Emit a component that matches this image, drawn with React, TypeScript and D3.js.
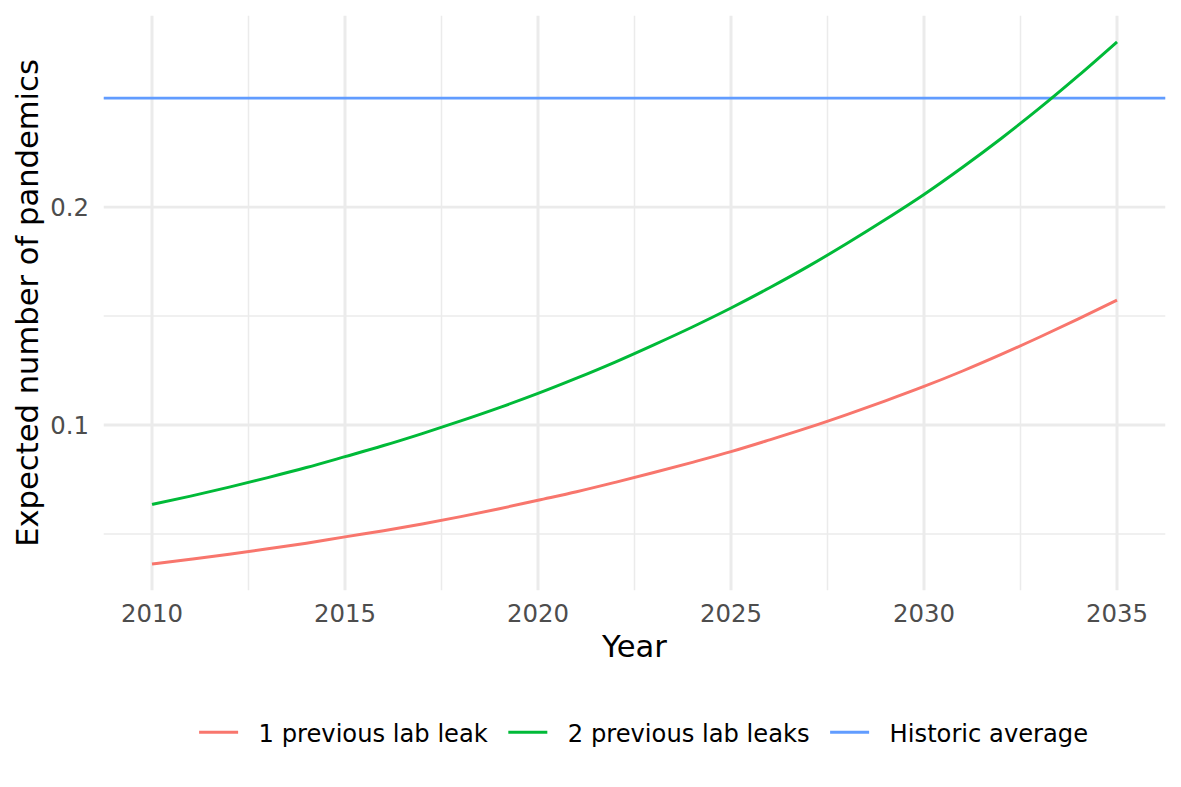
import { useEffect, useRef } from "react";
import * as d3 from "d3";

const years = [
  2010, 2011, 2012, 2013, 2014, 2015, 2016, 2017, 2018, 2019, 2020, 2021, 2022,
  2023, 2024, 2025, 2026, 2027, 2028, 2029, 2030, 2031, 2032, 2033, 2034, 2035,
];
const oneLeak = [
  0.0362, 0.0384, 0.0407, 0.0432, 0.0458, 0.0487, 0.0515, 0.0546, 0.058, 0.0616,
  0.0655, 0.0694, 0.0737, 0.0782, 0.0829, 0.0878, 0.0932, 0.0988, 0.1048, 0.1111,
  0.1177, 0.1248, 0.1324, 0.1404, 0.1487, 0.1573,
];
const twoLeaks = [
  0.0636, 0.0674, 0.0715, 0.0759, 0.0805, 0.0855, 0.0906, 0.0961, 0.1019, 0.108,
  0.1145, 0.1215, 0.1289, 0.1368, 0.145, 0.1537, 0.163, 0.1728, 0.1833, 0.1943,
  0.2058, 0.2183, 0.2315, 0.2455, 0.2603, 0.2758,
];
const historicAverage = 0.25;

const seriesNames = ["1 previous lab leak", "2 previous lab leaks", "Historic average"];
const seriesColors = ["#F8766D", "#00BA38", "#619CFF"];

const xTicks = [2010, 2015, 2020, 2025, 2030, 2035];
const xMinor = [2012.5, 2017.5, 2022.5, 2027.5, 2032.5];
const yTicks = [0.1, 0.2];
const yMinor = [0.05, 0.15, 0.25];

export default function App() {
  const svgRef = useRef<SVGSVGElement>(null);

  useEffect(() => {
    if (!svgRef.current) return;
    const width = 1181;
    const height = 787;
    const panel = { left: 103.75, right: 1165.25, top: 15.8, bottom: 590.2 };
    const font = "DejaVu Sans, sans-serif";

    const svg = d3.select(svgRef.current);
    svg.selectAll("*").remove();
    svg.attr("width", width).attr("height", height).attr("viewBox", `0 0 ${width} ${height}`);
    svg.append("rect").attr("width", width).attr("height", height).attr("fill", "#ffffff");

    // ggplot-style 5% expansion
    const allY = [...oneLeak, ...twoLeaks];
    const yMin = d3.min(allY) as number;
    const yMax = d3.max(allY) as number;
    const yPad = (yMax - yMin) * 0.05;
    const xPad = (years[years.length - 1] - years[0]) * 0.05;

    const x = d3
      .scaleLinear()
      .domain([years[0] - xPad, years[years.length - 1] + xPad])
      .range([panel.left, panel.right]);
    const y = d3
      .scaleLinear()
      .domain([yMin - yPad, yMax + yPad])
      .range([panel.bottom, panel.top]);

    const grid = svg.append("g");
    // Minor grid
    grid
      .selectAll(".vminor")
      .data(xMinor)
      .enter()
      .append("line")
      .attr("x1", (d) => x(d))
      .attr("x2", (d) => x(d))
      .attr("y1", panel.top)
      .attr("y2", panel.bottom)
      .attr("stroke", "#EBEBEB")
      .attr("stroke-width", 1.48);
    grid
      .selectAll(".hminor")
      .data(yMinor)
      .enter()
      .append("line")
      .attr("x1", panel.left)
      .attr("x2", panel.right)
      .attr("y1", (d) => y(d))
      .attr("y2", (d) => y(d))
      .attr("stroke", "#EBEBEB")
      .attr("stroke-width", 1.48);
    // Major grid
    grid
      .selectAll(".vmajor")
      .data(xTicks)
      .enter()
      .append("line")
      .attr("x1", (d) => x(d))
      .attr("x2", (d) => x(d))
      .attr("y1", panel.top)
      .attr("y2", panel.bottom)
      .attr("stroke", "#EBEBEB")
      .attr("stroke-width", 2.96);
    grid
      .selectAll(".hmajor")
      .data(yTicks)
      .enter()
      .append("line")
      .attr("x1", panel.left)
      .attr("x2", panel.right)
      .attr("y1", (d) => y(d))
      .attr("y2", (d) => y(d))
      .attr("stroke", "#EBEBEB")
      .attr("stroke-width", 2.96);

    // Historic average
    svg
      .append("line")
      .attr("x1", panel.left)
      .attr("x2", panel.right)
      .attr("y1", y(historicAverage))
      .attr("y2", y(historicAverage))
      .attr("stroke", seriesColors[2])
      .attr("stroke-width", 2.96);

    const line = d3
      .line<number>()
      .x((_, i) => x(years[i]))
      .y((d) => y(d))
      .curve(d3.curveMonotoneX);

    [oneLeak, twoLeaks].forEach((vals, i) => {
      svg
        .append("path")
        .datum(vals)
        .attr("fill", "none")
        .attr("stroke", seriesColors[i])
        .attr("stroke-width", 2.96)
        .attr("stroke-linejoin", "round")
        .attr("d", line);
    });

    // Axis tick labels
    svg
      .selectAll(".xlab")
      .data(xTicks)
      .enter()
      .append("text")
      .attr("x", (d) => x(d))
      .attr("y", 622)
      .attr("text-anchor", "middle")
      .attr("font-family", font)
      .attr("font-size", 24.4)
      .attr("fill", "#4D4D4D")
      .text((d) => String(d));
    svg
      .selectAll(".ylab")
      .data(yTicks)
      .enter()
      .append("text")
      .attr("x", 89)
      .attr("y", (d) => y(d))
      .attr("dy", "0.35em")
      .attr("text-anchor", "end")
      .attr("font-family", font)
      .attr("font-size", 24.4)
      .attr("fill", "#4D4D4D")
      .text((d) => d3.format(".1f")(d));

    // Axis titles
    svg
      .append("text")
      .attr("x", (panel.left + panel.right) / 2)
      .attr("y", 657)
      .attr("text-anchor", "middle")
      .attr("font-family", font)
      .attr("font-size", 30.6)
      .attr("fill", "#000000")
      .text("Year");
    svg
      .append("text")
      .attr("transform", `translate(38,${(panel.top + panel.bottom) / 2}) rotate(-90)`)
      .attr("text-anchor", "middle")
      .attr("font-family", font)
      .attr("font-size", 30.6)
      .attr("fill", "#000000")
      .text("Expected number of pandemics");

    // Legend (bottom, centred)
    const legend = svg.append("g");
    const keyLen = 39;
    const gap = 20.5;
    const items = seriesNames.map((name, i) => {
      const g = legend.append("g");
      g.append("line")
        .attr("x1", 0)
        .attr("x2", keyLen)
        .attr("y1", 0)
        .attr("y2", 0)
        .attr("stroke", seriesColors[i])
        .attr("stroke-width", 2.96);
      const t = g
        .append("text")
        .attr("x", keyLen + gap)
        .attr("y", 10)
        .attr("font-family", font)
        .attr("font-size", 24.2)
        .attr("fill", "#000000")
        .text(name);
      const w = (t.node() as SVGTextElement).getComputedTextLength();
      return { g, w: keyLen + gap + w };
    });
    const totalW = d3.sum(items, (d) => d.w) + gap * (items.length - 1);
    let cx = 643.6 - totalW / 2;
    items.forEach((it) => {
      it.g.attr("transform", `translate(${cx},732.3)`);
      cx += it.w + gap;
    });
  }, []);

  return (
    <svg
      ref={svgRef}
      style={{ position: "absolute", left: 0, top: 0, display: "block" }}
      width={1181}
      height={787}
    />
  );
}
